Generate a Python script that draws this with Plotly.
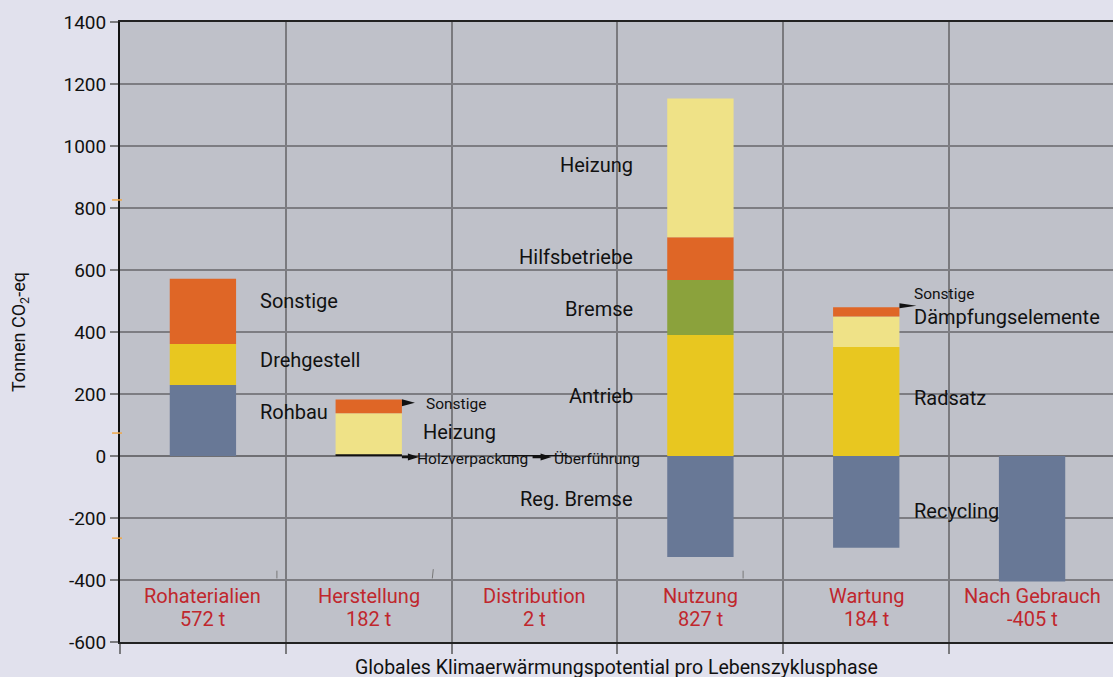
import plotly.graph_objects as go

# ---------------- data ----------------
phases = ["Rohaterialien", "Herstellung", "Distribution", "Nutzung", "Wartung", "Nach Gebrauch"]
phase_totals = ["572 t", "182 t", "2 t", "827 t", "184 t", "-405 t"]

# stacked segments (bottom to top inside each phase)
seg_phase = ["Rohaterialien", "Rohaterialien", "Rohaterialien",
             "Herstellung", "Herstellung", "Herstellung",
             "Distribution",
             "Nutzung", "Nutzung", "Nutzung", "Nutzung", "Nutzung",
             "Wartung", "Wartung", "Wartung", "Wartung",
             "Nach Gebrauch"]
seg_name = ["Rohbau", "Drehgestell", "Sonstige",
            "Holzverpackung", "Heizung", "Sonstige",
            "Überführung",
            "Reg. Bremse", "Antrieb", "Bremse", "Hilfsbetriebe", "Heizung",
            "Recycling", "Radsatz", "Dämpfungselemente", "Sonstige",
            "Recycling"]
seg_value = [229, 132, 211,
             6, 132, 44,
             2,
             -326, 390, 178, 138, 447,
             -296, 352, 98, 30,
             -405]

y_ticks = [-600, -400, -200, 0, 200, 400, 600, 800, 1000, 1200, 1400]
y_ticktext = ["-600", "-400", "-200", "0", "200", "400", "600", "800", "1000", "1200", "1400"]

# ---------------- styles ----------------
colors = {
    "Rohbau": "#687896", "Recycling": "#687896", "Reg. Bremse": "#687896",
    "Drehgestell": "#e8c720", "Antrieb": "#e8c720", "Radsatz": "#e8c720",
    "Sonstige": "#df6626", "Hilfsbetriebe": "#df6626",
    "Heizung": "#efe287", "Dämpfungselemente": "#efe287",
    "Bremse": "#8ba23c",
    "Holzverpackung": "#111111", "Überführung": "#111111",
}
FONT = "Roboto"
TXT = "#111111"
RED = "#c0272d"
BAR_W = 0.4

fig = go.Figure()
for p, n, v in zip(seg_phase, seg_name, seg_value):
    fig.add_trace(go.Bar(x=[p], y=[v], name=n, width=BAR_W,
                         marker=dict(color=colors[n], line=dict(width=0)),
                         showlegend=False, hoverinfo="x+y+name"))

# segment labels: (phase, text, y, xshift, xanchor, size)
labels = [
    ("Rohaterialien", "Sonstige", 500, 55, "left", 20),
    ("Rohaterialien", "Drehgestell", 310, 55, "left", 20),
    ("Rohaterialien", "Rohbau", 142, 55, "left", 20),
    ("Herstellung", "Sonstige", 168, 55, "left", 15.5),
    ("Herstellung", "Heizung", 77, 52, "left", 20),
    ("Herstellung", "Holzverpackung", -10, 46, "left", 15.5),
    ("Distribution", "Überführung", -10, 17, "left", 15.5),
    ("Nutzung", "Heizung", 939, -65, "right", 20),
    ("Nutzung", "Hilfsbetriebe", 642, -65, "right", 20),
    ("Nutzung", "Bremse", 474, -65, "right", 20),
    ("Nutzung", "Antrieb", 194, -65, "right", 20),
    ("Nutzung", "Reg. Bremse", -139, -65, "right", 20),
    ("Wartung", "Sonstige", 523, 46, "left", 15.5),
    ("Wartung", "Dämpfungselemente", 448, 46, "left", 20),
    ("Wartung", "Radsatz", 187, 46, "left", 20),
    ("Wartung", "Recycling", -177, 46, "left", 20),
]
for p, t, y, xs, xa, s in labels:
    fig.add_annotation(x=p, y=y, xref="x", yref="y", text=t, showarrow=False,
                       xanchor=xa, yanchor="middle", xshift=xs,
                       font=dict(family=FONT, size=s, color=TXT))

# small arrows drawn as pixel-sized paths: (phase, y, x offset, path relative to anchor)
arrow_tri = "M 0,-3.5 L 13,0 L 0,3.5 Z"
arrow_line = "M -2,-1.2 L 6,-1.2 L 6,-3.5 L 17,0 L 6,3.5 L 6,1.2 L -2,1.2 Z"
arrows = [
    ("Herstellung", 172, BAR_W / 2, arrow_tri),
    ("Herstellung", -3, BAR_W / 2, arrow_line.replace("-2,", "0,")),
    ("Distribution", -3, 0.0, arrow_line),
    ("Wartung", 485, BAR_W / 2, "M 0,-2.5 L 17,0 L 0,2.5 Z"),
]
for p, y, dx, path in arrows:
    fig.add_shape(type="path", xref="x", yref="y", xsizemode="pixel", ysizemode="pixel",
                  xanchor=phases.index(p) + dx, yanchor=y, path=path,
                  fillcolor="#111111", line=dict(width=0))

# phase labels (red) inside plot
for p, tot in zip(phases, phase_totals):
    fig.add_annotation(x=p, y=-452, xref="x", yref="y", text=p,
                       showarrow=False, xanchor="center", yanchor="middle",
                       font=dict(family=FONT, size=20, color=RED))
    fig.add_annotation(x=p, y=-526, xref="x", yref="y", text=tot,
                       showarrow=False, xanchor="center", yanchor="middle",
                       font=dict(family=FONT, size=20, color=RED))

# axis titles
fig.add_annotation(x=0.5, y=0, xref="paper", yref="paper", yshift=-25,
                   text="Globales Klimaerwärmungspotential pro Lebenszyklusphase",
                   showarrow=False, xanchor="center", yanchor="middle",
                   font=dict(family=FONT, size=19.5, color=TXT))
fig.add_annotation(x=0, y=0.5, xref="paper", yref="paper", xshift=-100,
                   text="Tonnen CO<sub>2</sub>-eq", textangle=-90,
                   showarrow=False, xanchor="center", yanchor="middle",
                   font=dict(family=FONT, size=18, color=TXT))

# small orange marks at the left axis and stray grey marks (decoration)
for yv in [826, 74, -265, -603]:
    fig.add_shape(type="line", xref="paper", yref="y", x0=-0.008, x1=0.002,
                  y0=yv, y1=yv, line=dict(color="#f0a848", width=1.5))
for x0, x1, y0, y1 in [(0.158, 0.158, -370, -395), (0.3155, 0.3145, -365, -395),
                       (0.6275, 0.6275, -370, -395)]:
    fig.add_shape(type="line", xref="paper", yref="y", x0=x0, x1=x1,
                  y0=y0, y1=y1, line=dict(color="#777777", width=1))

fig.update_layout(
    width=1113, height=677,
    margin=dict(l=120, r=0, t=22, b=35),
    barmode="relative",
    paper_bgcolor="#e1e1ed", plot_bgcolor="#bfc1c9",
    font=dict(family=FONT, size=19, color=TXT),
    showlegend=False,
    xaxis=dict(categoryorder="array", categoryarray=phases, showticklabels=False,
               tickson="boundaries", ticks="outside", ticklen=10, tickcolor="#7a7a7e",
               tickwidth=1.5, showgrid=True, gridcolor="#7a7a7e", gridwidth=1.5,
               showline=True, linecolor="#222222", linewidth=2, mirror=True,
               range=[-0.5, 5.488], fixedrange=True),
    yaxis=dict(range=[-600, 1400], tickvals=y_ticks, ticktext=y_ticktext,
               showgrid=True, gridcolor="#7d7d82",
               gridwidth=1.5, zeroline=True, zerolinecolor="#6f6f73", zerolinewidth=1.5,
               showline=True, linecolor="#111111", linewidth=2,
               ticks="outside", ticklen=8, tickcolor="#7a7a7e", tickwidth=1.5,
               tickfont=dict(family=FONT, size=19, color=TXT)),
)

fig.write_html("out.html", config={"displayModeBar": False},
               post_script="document.body.style.margin='0';")
